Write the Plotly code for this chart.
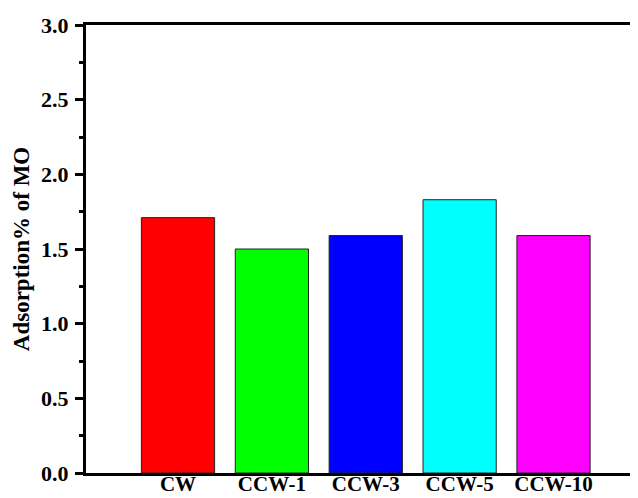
import plotly.graph_objects as go

categories = ["CW", "CCW-1", "CCW-3", "CCW-5", "CCW-10"]
values = [1.71, 1.50, 1.59, 1.83, 1.59]
colors = ["#FF0000", "#00FF00", "#0000FF", "#00FFFF", "#FF00FF"]
y_ticks = [0.0, 0.5, 1.0, 1.5, 2.0, 2.5, 3.0]
y_ticktext = ["0.0", "0.5", "1.0", "1.5", "2.0", "2.5", "3.0"]

font_family = "Liberation Serif, Times New Roman, serif"

fig = go.Figure(
    go.Bar(
        x=list(range(len(categories))),
        y=values,
        marker=dict(color=colors, line=dict(color="#222222", width=1)),
        width=0.78,
    )
)

fig.update_layout(
    width=630,
    height=490,
    margin=dict(l=78, r=0, t=17, b=25),
    plot_bgcolor="white",
    paper_bgcolor="white",
    showlegend=False,
    font=dict(family=font_family, size=22, color="black"),
)

fig.update_xaxes(
    range=[-0.98, 4.9],
    tickmode="array",
    tickvals=list(range(len(categories))),
    ticktext=["<b>%s</b>" % c for c in categories],
    ticks="",
    showline=True,
    linecolor="black",
    linewidth=3,
    mirror=True,
    showgrid=False,
    zeroline=False,
    tickfont=dict(family=font_family, size=21, color="black"),
    ticklabelstandoff=-10,
    automargin=False,
)

fig.update_yaxes(
    range=[0, 3.0],
    tickmode="array",
    tickvals=y_ticks,
    ticktext=["<b>%s</b>" % t for t in y_ticktext],
    ticks="outside",
    ticklen=8,
    tickwidth=2.5,
    tickcolor="black",
    minor=dict(ticks="outside", ticklen=4, tickwidth=2.5, tickcolor="black", dtick=0.25, tick0=0),
    showline=True,
    linecolor="black",
    linewidth=3,
    showgrid=False,
    zeroline=False,
    tickfont=dict(family=font_family, size=22, color="black"),
    ticklabelstandoff=2,
    title=dict(text="<b>Adsorption% of MO</b>", font=dict(family=font_family, size=23, color="black"), standoff=6),
    automargin=False,
)

fig.write_html("out.html")
